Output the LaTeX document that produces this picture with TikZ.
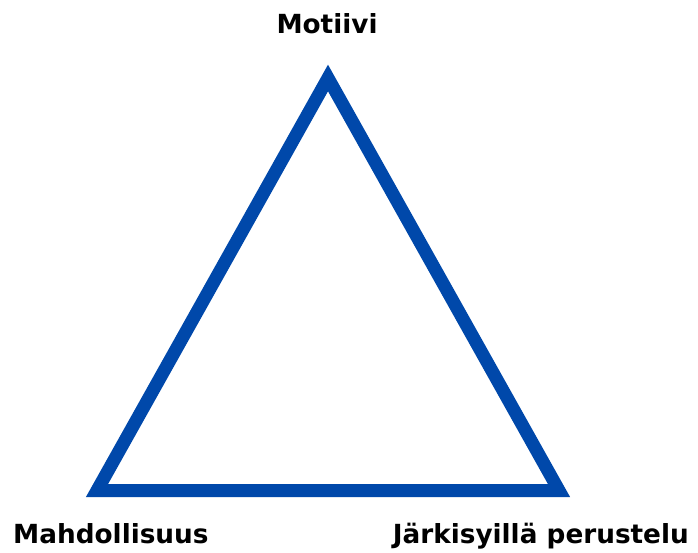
\documentclass[tikz,border=0pt]{standalone}
\usepackage{fontspec}
\setmainfont{DejaVu Sans}
\definecolor{triblue}{RGB}{0,72,170}
\begin{document}
\begin{tikzpicture}[x=1pt, y=-1pt,
    corner/.style={font=\bfseries\fontsize{26.3}{31}\selectfont, inner sep=0pt}]
    \useasboundingbox (0,0) rectangle (698,552);
    \coordinate (top) at (328,78);
    \coordinate (left) at (97,490.5);
    \coordinate (right) at (559,490.5);
    \node[corner, anchor=base] (motiivi) at (327,33) {Motiivi};
    \node[corner, anchor=base west] (mahd) at (13,543) {Mahdollisuus};
    \node[corner, anchor=base east] (perustelu) at (689,543) {Järkisyillä perustelu};

    \draw[triblue, line width=13pt, line join=miter] (top) -- (right) -- (left) -- cycle;
\end{tikzpicture}
\end{document}
